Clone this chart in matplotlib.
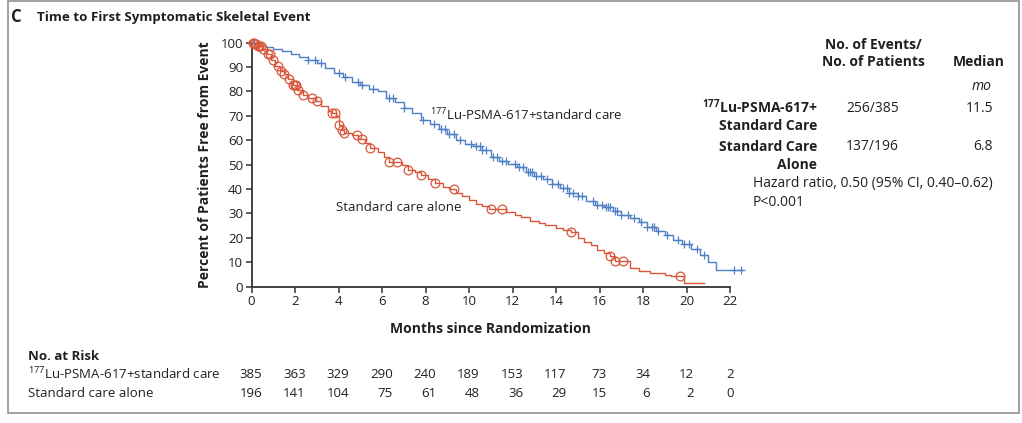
import matplotlib
matplotlib.use('Agg')
import matplotlib.pyplot as plt
import matplotlib.transforms as mtransforms
from matplotlib.patches import Rectangle
import numpy as np

# DATA
lu_t = [0.0, 0.3, 0.6, 1.0, 1.4, 1.8, 2.2, 2.6, 3.0, 3.4, 3.8, 4.2, 4.6, 5.0, 5.4, 5.8,
        6.2, 6.6, 7.0, 7.4, 7.8, 8.2, 8.6, 9.0, 9.4, 9.8, 10.2, 10.6, 11.0, 11.4, 11.8,
        12.2, 12.6, 13.0, 13.4, 13.8, 14.2, 14.6, 15.0, 15.4, 15.8, 16.2, 16.6, 17.0,
        17.4, 17.8, 18.2, 18.6, 19.0, 19.4, 19.8, 20.2, 20.6, 21.0, 21.35]
lu_s = [100, 99, 98.3, 97.5, 96.5, 95.5, 94.3, 93, 91.5, 89.5, 87.5, 85.8, 84, 82.5, 81, 80,
        77.5, 75.5, 73.4, 71, 68.5, 66.5, 64.5, 62.5, 60.3, 58.5, 57.5, 56, 53, 51.5, 50.3,
        49, 47, 45.5, 44, 42, 40.5, 38.5, 37, 35, 33.5, 32.5, 31, 29.5,
        28, 26.5, 24.5, 23, 21, 19, 17.5, 15.5, 13, 10, 7]
lu_end = 22.6
lu_cens = [0.1, 2.6, 2.9, 3.2, 4.0, 4.3, 4.9, 5.1, 5.6, 6.3, 6.5, 7.0, 7.9, 8.4, 8.7, 8.9,
           9.1, 9.3, 9.6, 10.1, 10.3, 10.5, 10.6, 10.8, 11.1, 11.3, 11.5, 11.7, 12.1, 12.3,
           12.5, 12.7, 12.8, 12.9, 13.1, 13.3, 13.6, 13.8, 14.1, 14.3, 14.5, 14.6, 14.8,
           15.0, 15.2, 15.7, 15.9, 16.1, 16.3, 16.4, 16.5, 16.7, 16.8, 17.0, 17.3, 17.6,
           17.9, 18.2, 18.4, 18.5, 18.7, 19.1, 19.6, 19.9, 20.1, 20.5, 20.8, 22.2, 22.5]

sc_t = [0.0, 0.15, 0.3, 0.5, 0.7, 0.9, 1.1, 1.3, 1.5, 1.7, 1.9, 2.1, 2.35, 2.6, 2.9, 3.2,
        3.5, 3.7, 3.9, 4.0, 4.17, 4.24, 4.6, 4.9, 5.2, 5.45, 5.8, 6.1, 6.3, 6.9, 7.2, 7.5,
        7.8, 8.1, 8.45, 8.8, 9.1, 9.4, 9.7, 10.0, 10.3, 10.6, 10.9, 11.7, 12.1, 12.4,
        12.8, 13.2, 13.5, 14.0, 14.3, 14.7, 15.0, 15.3, 15.6, 15.9, 16.2, 16.5, 16.7,
        17.4, 17.8, 18.3, 19.0, 19.3, 19.9]
sc_s = [100, 99.5, 98.5, 97.5, 95.5, 93, 90.5, 88.5, 87, 85, 82.5, 80.5, 78.7, 77.5, 76, 74,
        72, 71.3, 70, 66.4, 64.3, 63, 62, 60.5, 59, 57, 55, 53, 51, 50, 48, 47,
        45.9, 44, 42.7, 41, 40, 38.5, 37, 35.5, 34, 33, 32, 30.5, 29.5, 28.7,
        27, 26, 25.4, 24, 23.3, 22.5, 20, 18.5, 17, 15.2, 14, 12.7, 10.7,
        7.8, 6.5, 5.8, 4.9, 4.2, 1.6]
sc_end = 20.8
sc_cens = [0.05, 0.1, 0.15, 0.2, 0.3, 0.35, 0.45, 0.55, 0.76, 0.83, 0.98, 1.2, 1.35, 1.5,
           1.74, 1.9, 2.0, 2.05, 2.15, 2.35, 2.8, 3.03, 3.7, 3.86, 4.0, 4.17, 4.24, 4.85,
           5.08, 5.45, 6.3, 6.67, 7.2, 7.8, 8.45, 9.3, 11.0, 11.5, 14.7, 16.5, 16.7, 17.1, 19.7]

xticks = list(range(0, 23, 2))
yticks = list(range(0, 101, 10))
risk_lu = [385, 363, 329, 290, 240, 189, 153, 117, 73, 34, 12, 2]
risk_sc = [196, 141, 104, 75, 61, 48, 36, 29, 15, 6, 2, 0]

BLUE = '#4f7fc4'
RED = '#d8573b'
INK = '#231f20'
AX = '#333333'

plt.rcParams['font.family'] = ['Open Sans', 'DejaVu Sans']
plt.rcParams['mathtext.fontset'] = 'custom'
plt.rcParams['mathtext.rm'] = 'Open Sans'
plt.rcParams['mathtext.it'] = 'Open Sans:italic'
plt.rcParams['mathtext.bf'] = 'Open Sans:bold'

fig = plt.figure(figsize=(10.22, 4.23), dpi=100)
W, H = 1022., 423.

def fx(px):
    return px / W

def fy(py):
    return 1 - py / H

# outer frame
fig.patches.append(Rectangle((fx(8), fy(413)), fx(1019) - fx(8), fy(1) - fy(413),
                             transform=fig.transFigure, fill=False, ec='#9a9a9a', lw=1.3))

ax = fig.add_axes([fx(251.5), fy(286.7), fx(730) - fx(251.5), fy(42.7) - fy(286.7)])


def km(ax, t, s, end, cens, color, marker, ms, mew):
    tt = list(t) + [end]
    ss = list(s) + [s[-1]]
    ax.step(tt, ss, where='post', color=color, lw=1.0, clip_on=False, zorder=3)
    idx = np.searchsorted(t, cens, side='right') - 1
    cy = np.array(s)[idx]
    ax.plot(cens, cy, ls='none', marker=marker, ms=ms, mew=mew, mfc='none', mec=color,
            clip_on=False, zorder=4)


km(ax, lu_t, lu_s, lu_end, lu_cens, BLUE, '+', 5.5, 0.9)
km(ax, sc_t, sc_s, sc_end, sc_cens, RED, 'o', 6.3, 0.9)

ax.set_xlim(0, 22)
ax.set_ylim(0, 100)
ax.set_xticks(xticks)
ax.set_yticks(yticks)
for sp in ['top', 'right']:
    ax.spines[sp].set_visible(False)
for sp in ['left', 'bottom']:
    ax.spines[sp].set_color(AX)
    ax.spines[sp].set_linewidth(1.3)
ax.tick_params(direction='out', length=4, width=1.1, color=AX, labelsize=9.5,
               labelcolor=INK, pad=2)
ax.set_xlabel('Months since Randomization', fontsize=10, fontweight='bold', color=INK,
              labelpad=10)
ax.set_ylabel('Percent of Patients Free from Event', fontsize=10, fontweight='bold',
              color=INK, labelpad=6)

ax.text(8.2, 70.5, r'$^{177}$Lu-PSMA-617+standard care', fontsize=9.5, color=INK,
        va='center', ha='left')
ax.text(3.9, 32.5, 'Standard care alone', fontsize=9.5, color=INK, va='center', ha='left')

# title
fig.text(fx(11), fy(17), 'C', fontsize=12, fontweight='bold', color=INK, va='center')
fig.text(fx(37), fy(17), 'Time to First Symptomatic Skeletal Event', fontsize=9.6,
         fontweight='bold', color=INK, va='center')

# right-hand table
kw = dict(fontsize=10, color=INK, va='center')
fig.text(fx(873.5), fy(45), 'No. of Events/', ha='center', fontweight='bold', **kw)
fig.text(fx(873.5), fy(62), 'No. of Patients', ha='center', fontweight='bold', **kw)
fig.text(fx(1005), fy(62), 'Median', ha='right', fontweight='bold', **kw)
fig.text(fx(991), fy(87), 'mo', ha='right', style='italic', **kw)
fig.text(fx(817), fy(107), r'$\mathbf{^{177}}$Lu-PSMA-617+', ha='right', fontweight='bold', **kw)
fig.text(fx(817), fy(126), 'Standard Care', ha='right', fontweight='bold', **kw)
fig.text(fx(817), fy(147), 'Standard Care', ha='right', fontweight='bold', **kw)
fig.text(fx(817), fy(165), 'Alone', ha='right', fontweight='bold', **kw)
fig.text(fx(872.5), fy(108), '256/385', ha='center', **kw)
fig.text(fx(872.5), fy(147), '137/196', ha='center', **kw)
fig.text(fx(993), fy(108), '11.5', ha='right', **kw)
fig.text(fx(993), fy(147), '6.8', ha='right', **kw)
fig.text(fx(753), fy(184), 'Hazard ratio, 0.50 (95% CI, 0.40\u20130.62)', ha='left', **kw)
fig.text(fx(753), fy(202), 'P<0.001', ha='left', **kw)

# number at risk
kw2 = dict(fontsize=9.5, color=INK, va='center')
fig.text(fx(28), fy(356), 'No. at Risk', ha='left', fontweight='bold', **kw2)
fig.text(fx(28), fy(374), r'$^{177}$Lu-PSMA-617+standard care', ha='left', **kw2)
fig.text(fx(28), fy(393), 'Standard care alone', ha='left', **kw2)
trans = mtransforms.blended_transform_factory(ax.transData, fig.transFigure)
for i, x in enumerate(xticks):
    nd = len(str(max(risk_lu[i], risk_sc[i])))
    xr = x + 0.165 * nd
    for val, py in [(risk_lu[i], 374), (risk_sc[i], 393)]:
        ax.text(xr, fy(py), str(val), ha='right', transform=trans, clip_on=False, **kw2)

fig.savefig('out.png', dpi=100)
